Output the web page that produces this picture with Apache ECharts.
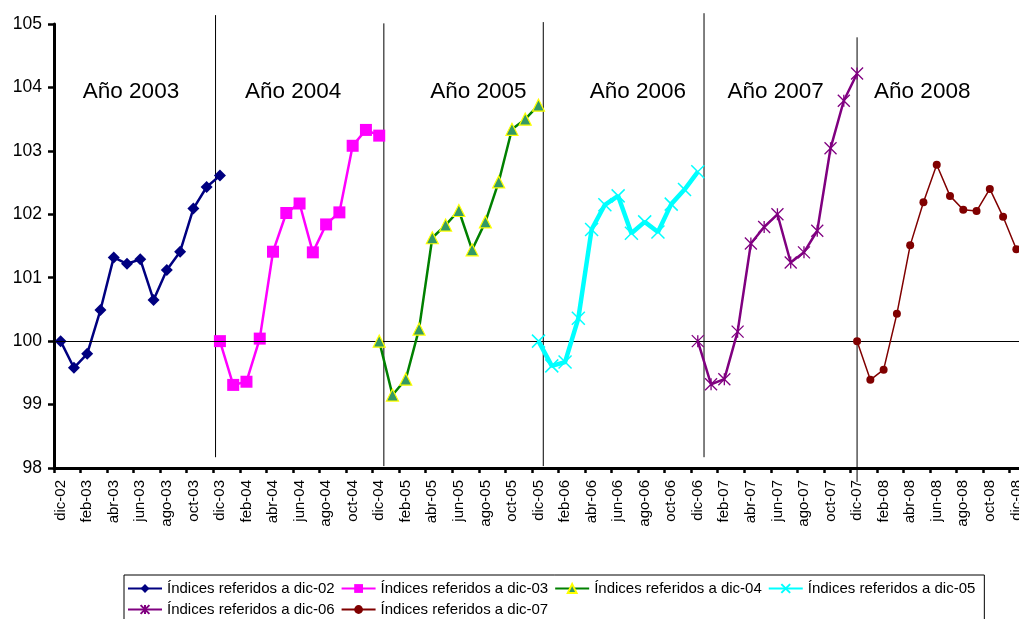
<!DOCTYPE html>
<html>
<head>
<meta charset="utf-8">
<script src="https://cdn.jsdelivr.net/npm/echarts@6/dist/echarts.min.js"></script>
<style>
  html, body { margin: 0; padding: 0; background: #ffffff; }
  #chart { width: 1019px; height: 619px; }
</style>
</head>
<body>
<div id="chart"></div>
<script>
// Monthly categories, dic-02 … dic-08
const categories = [
  'dic-02',
  'ene-03','feb-03','mar-03','abr-03','may-03','jun-03','jul-03','ago-03','sep-03','oct-03','nov-03','dic-03',
  'ene-04','feb-04','mar-04','abr-04','may-04','jun-04','jul-04','ago-04','sep-04','oct-04','nov-04','dic-04',
  'ene-05','feb-05','mar-05','abr-05','may-05','jun-05','jul-05','ago-05','sep-05','oct-05','nov-05','dic-05',
  'ene-06','feb-06','mar-06','abr-06','may-06','jun-06','jul-06','ago-06','sep-06','oct-06','nov-06','dic-06',
  'ene-07','feb-07','mar-07','abr-07','may-07','jun-07','jul-07','ago-07','sep-07','oct-07','nov-07','dic-07',
  'ene-08','feb-08','mar-08','abr-08','may-08','jun-08','jul-08','ago-08','sep-08','oct-08','nov-08','dic-08'
];

// Index values, each year rebased to 100 in the previous December
const idxDic02 = [100.00, 99.58, 99.80, 100.49, 101.32, 101.22, 101.29, 100.65, 101.12, 101.41, 102.09, 102.43, 102.61];
const idxDic03 = [100.00, 99.31, 99.36, 100.04, 101.41, 102.02, 102.17, 101.40, 101.84, 102.03, 103.08, 103.33, 103.24];
const idxDic04 = [100.00, 99.15, 99.40, 100.19, 101.63, 101.83, 102.06, 101.44, 101.88, 102.51, 103.34, 103.50, 103.72];
const idxDic05 = [100.00, 99.61, 99.67, 100.36, 101.76, 102.15, 102.29, 101.70, 101.88, 101.72, 102.16, 102.39, 102.67];
const idxDic06 = [100.00, 99.32, 99.40, 100.15, 101.54, 101.80, 102.00, 101.24, 101.40, 101.74, 103.04, 103.79, 104.22];
const idxDic07 = [100.00, 99.39, 99.55, 100.43, 101.51, 102.19, 102.78, 102.29, 102.07, 102.05, 102.40, 101.96, 101.45];

const seriesNames = [
  'Índices referidos a dic-02', 'Índices referidos a dic-03', 'Índices referidos a dic-04',
  'Índices referidos a dic-05', 'Índices referidos a dic-06', 'Índices referidos a dic-07'
];
const seriesStart = [0, 12, 24, 36, 48, 60];

// Year captions and their centre positions (in months from dic-02)
const yearLabels = ['Año 2003', 'Año 2004', 'Año 2005', 'Año 2006', 'Año 2007', 'Año 2008'];
const yearLabelX = [5.30, 17.51, 31.47, 43.49, 53.86, 64.91];
const yearLabelY = 103.93;

// Year divider lines: month position, top and bottom values
const dividerX = [11.67, 24.35, 36.36, 48.47, 60.0];
const dividerTop = [105.14, 105.01, 105.03, 105.17, 104.79];
const dividerBottom = [98.17, 98.03, 98.03, 98.17, 97.78];

const baseLevel = 100;
const yMin = 98, yMax = 105, yStep = 1;

const FONT = 'Liberation Sans, Arial, sans-serif';

function spread(values, start) {
  const out = new Array(categories.length).fill(null);
  values.forEach((v, i) => { out[start + i] = v; });
  return out;
}

const xMark = 'path://M0,0L10,10M10,0L0,10';
const starMark = 'path://M0,0L10,10M10,0L0,10M5,0L5,10';

const styles = [
  { color: '#000080', width: 2.5, symbol: 'diamond', size: 12, fill: '#000080', border: '#000080', bw: 0 },
  { color: '#FF00FF', width: 2.5, symbol: 'rect', size: 12, fill: '#FF00FF', border: '#FF00FF', bw: 0 },
  { color: '#008000', width: 2.5, symbol: 'triangle', size: 12, fill: '#339966', border: '#FFFF00', bw: 1.2 },
  { color: '#00FFFF', width: 4.5, symbol: xMark, size: 13, fill: 'none', border: '#00FFFF', bw: 1.5 },
  { color: '#800080', width: 2.5, symbol: starMark, size: 12, fill: 'none', border: '#800080', bw: 1.3 },
  { color: '#800000', width: 1.5, symbol: 'circle', size: 8, fill: '#800000', border: '#800000', bw: 0 }
];

const seriesValues = [idxDic02, idxDic03, idxDic04, idxDic05, idxDic06, idxDic07];

const lineSeries = seriesValues.map((vals, k) => {
  const s = styles[k];
  return {
    name: seriesNames[k],
    type: 'line',
    xAxisIndex: 0,
    yAxisIndex: 0,
    data: spread(vals, seriesStart[k]),
    connectNulls: false,
    symbol: s.symbol,
    symbolSize: s.size,
    symbolKeepAspect: true,
    showAllSymbol: true,
    lineStyle: { color: s.color, width: s.width },
    itemStyle: { color: s.fill, borderColor: s.border, borderWidth: s.bw },
    emphasis: { disabled: true },
    animation: false,
    z: 3 + k
  };
});

// Helper series on a hidden value axis for the base line and year captions
const helperSeries = {
  name: 'guides',
  type: 'line',
  xAxisIndex: 1,
  yAxisIndex: 0,
  data: [],
  silent: true,
  animation: false,
  z: 2,
  markLine: {
    silent: true,
    symbol: ['none', 'none'],
    animation: false,
    label: { show: false },
    lineStyle: { color: '#000000', width: 1, type: 'solid' },
    emphasis: { disabled: true },
    data: [
      [{ coord: [-0.5, baseLevel] }, { coord: [categories.length - 0.5, baseLevel] }]
    ]
  },
  markPoint: {
    silent: true,
    symbol: 'circle',
    symbolSize: 0,
    animation: false,
    label: {
      show: true,
      position: 'inside',
      color: '#000000',
      fontFamily: FONT,
      fontSize: 22.5,
      formatter: p => p.name
    },
    data: yearLabels.map((t, i) => ({ name: t, coord: [yearLabelX[i], yearLabelY] }))
  }
};

const option = {
  backgroundColor: '#ffffff',
  animation: false,
  textStyle: { fontFamily: FONT },
  grid: { left: 54, top: 24, bottom: 151, width: 969, containLabel: false, outerBoundsMode: 'none' },
  xAxis: [
    {
      type: 'category',
      data: categories,
      boundaryGap: true,
      axisLine: { show: true, onZero: false, lineStyle: { color: '#000000', width: 3 } },
      axisTick: { show: true, interval: 1, alignWithLabel: false, length: 5, lineStyle: { color: '#000000', width: 2.5 } },
      axisLabel: { interval: 1, rotate: 90, margin: 12, color: '#000000', fontFamily: FONT, fontSize: 15, hideOverlap: false },
      splitLine: { show: false }
    },
    {
      type: 'value',
      min: -0.5,
      max: categories.length - 0.5,
      show: false,
      axisLine: { onZero: false },
      splitLine: { show: false }
    }
  ],
  yAxis: {
    type: 'value',
    min: yMin,
    max: yMax,
    interval: yStep,
    axisLine: { show: true, onZero: false, lineStyle: { color: '#000000', width: 3 } },
    axisTick: { show: true, length: 6, lineStyle: { color: '#000000', width: 2.5 } },
    axisLabel: { margin: 12, color: '#000000', fontFamily: FONT, fontSize: 17.5 },
    splitLine: { show: false }
  },
  legend: {
    data: seriesNames,
    left: 124,
    top: 575,
    width: 860,
    orient: 'horizontal',
    padding: [6, 9, 6, 3],
    itemGap: 6,
    itemWidth: 34,
    itemHeight: 11,
    borderColor: '#000000',
    borderWidth: 1,
    backgroundColor: '#ffffff',
    selectedMode: false,
    textStyle: { color: '#000000', fontFamily: FONT, fontSize: 15 }
  },
  series: lineSeries.concat([helperSeries])
};

const chart = echarts.init(document.getElementById('chart'), null, { renderer: 'canvas' });
chart.setOption(option);

// Year dividers, positioned through the axes (they may run past the plot edges)
const finder = { xAxisIndex: 1, yAxisIndex: 0 };
const dividers = dividerX.map((x, i) => {
  const a = chart.convertToPixel(finder, [x, dividerTop[i]]);
  const b = chart.convertToPixel(finder, [x, dividerBottom[i]]);
  return {
    type: 'line',
    silent: true,
    z: 1,
    shape: { x1: a[0], y1: a[1], x2: b[0], y2: b[1] },
    style: { stroke: '#000000', lineWidth: 1 }
  };
});
chart.setOption({ graphic: dividers });
</script>
</body>
</html>
